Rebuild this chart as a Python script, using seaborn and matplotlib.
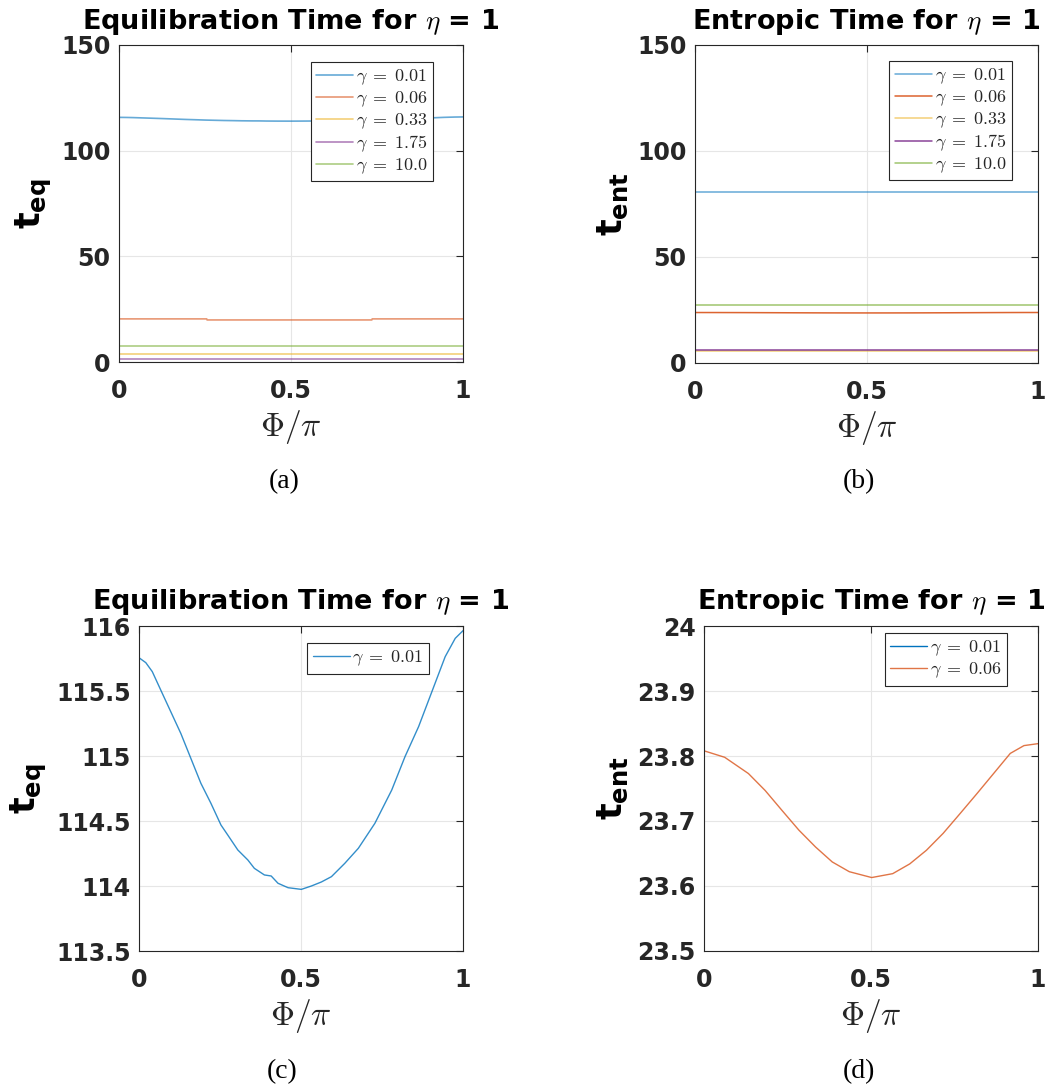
import numpy as np
import pandas as pd
import matplotlib
matplotlib.use('Agg')
import matplotlib.pyplot as plt
import seaborn as sns
from matplotlib.ticker import FuncFormatter, FixedLocator
from matplotlib.font_manager import FontProperties

# ---------------- data ----------------
gamma_labels = ['0.01', '0.06', '0.33', '1.75', '10.0']
colors = ['#0072BD', '#D95319', '#EDB120', '#7E2F8E', '#77AC30']

# gamma = 0.01 equilibration time (panel c, also panel a)
phi_c = [0.000, 0.021, 0.041, 0.067, 0.098, 0.129, 0.160, 0.191, 0.222, 0.253,
         0.274, 0.305, 0.336, 0.356, 0.387, 0.408, 0.429, 0.460, 0.501, 0.532,
         0.563, 0.594, 0.635, 0.677, 0.728, 0.780, 0.821, 0.863, 0.904, 0.945,
         0.976, 1.000]
teq_c = [115.756, 115.718, 115.649, 115.508, 115.341, 115.174, 114.982, 114.790,
         114.636, 114.469, 114.392, 114.277, 114.200, 114.136, 114.085, 114.077,
         114.021, 113.987, 113.974, 114.000, 114.031, 114.072, 114.174, 114.290,
         114.482, 114.738, 114.995, 115.226, 115.495, 115.764, 115.905, 115.964]

# gamma = 0.06 entropic time (panel d, also panel b)
phi_d = [0.000, 0.062, 0.133, 0.183, 0.234, 0.284, 0.334, 0.384, 0.435, 0.502,
         0.565, 0.616, 0.666, 0.716, 0.766, 0.817, 0.867, 0.917, 0.958, 1.000]
tent_d = [23.808, 23.798, 23.773, 23.747, 23.716, 23.686, 23.660, 23.637, 23.622,
          23.613, 23.619, 23.634, 23.655, 23.681, 23.711, 23.742, 23.773, 23.804,
          23.816, 23.819]

phi_flat = [0.0, 1.0]
phi_step = [0.0, 0.255, 0.256, 0.735, 0.736, 1.0]
teq_g006 = [20.4, 20.4, 19.9, 19.9, 20.4, 20.4]
teq_g033 = [3.7, 3.7]
teq_g175 = [1.3, 1.3]
teq_g10 = [7.8, 7.8]

tent_g001 = [80.5, 80.5]
tent_g033 = [5.8, 5.8]
tent_g175 = [6.2, 6.2]
tent_g10 = [27.3, 27.3]

# ---------------- style ----------------
sns.set_style('white')
plt.rcParams['font.family'] = ['DejaVu Sans']
plt.rcParams['font.weight'] = 'bold'
plt.rcParams['axes.titleweight'] = 'bold'
plt.rcParams['mathtext.fontset'] = 'custom'
plt.rcParams['mathtext.bf'] = 'DejaVu Sans:bold'
plt.rcParams['mathtext.rm'] = 'DejaVu Sans'
plt.rcParams['mathtext.it'] = 'DejaVu Sans:italic'

fig = plt.figure(figsize=(10.55, 10.84), dpi=100)
W, H = 1055, 1084

def add_axes(l, r, t, b):
    return fig.add_axes([l / W, 1 - b / H, (r - l) / W, (b - t) / H])

ax_a = add_axes(119, 463, 45, 362)
ax_b = add_axes(695, 1038, 45, 363)
ax_c = add_axes(139, 463, 626, 951)
ax_d = add_axes(704, 1038, 626, 951)

leg_prop = FontProperties(family='serif', size=13, math_fontfamily='cm')

def lab(g):
    return r'$\gamma\;=\;' + g + '$'

# panel a
series_a = [(phi_c, teq_c), (phi_step, teq_g006), (phi_flat, teq_g033),
            (phi_flat, teq_g175), (phi_flat, teq_g10)]
for (xs, ys), c, g in zip(series_a, colors, gamma_labels):
    sns.lineplot(x=xs, y=ys, ax=ax_a, color=c, lw=1.2, alpha=0.6, label=lab(g), sort=False)

# panel b
series_b = [(phi_flat, tent_g001), (phi_d, tent_d), (phi_flat, tent_g033),
            (phi_flat, tent_g175), (phi_flat, tent_g10)]
alphas_b = [0.6, 0.9, 0.6, 0.9, 0.7]
for (xs, ys), c, g, a in zip(series_b, colors, gamma_labels, alphas_b):
    sns.lineplot(x=xs, y=ys, ax=ax_b, color=c, lw=1.1, alpha=a, label=lab(g), sort=False)

# panel c
sns.lineplot(x=phi_c, y=teq_c, ax=ax_c, color=colors[0], lw=1.0, alpha=0.8, label=lab(gamma_labels[0]), sort=False)

# panel d
sns.lineplot(x=phi_flat, y=tent_g001, ax=ax_d, color=colors[0], lw=1.0, label=lab(gamma_labels[0]), sort=False)
sns.lineplot(x=phi_d, y=tent_d, ax=ax_d, color=colors[1], lw=1.0, alpha=0.8, label=lab(gamma_labels[1]), sort=False)

fmt = FuncFormatter(lambda v, p: '%g' % round(v, 6))

configs = [
    (ax_a, (0, 150), [0, 50, 100, 150], 'Equilibration Time for $\\eta$ = 1', r'$\mathbf{t_{eq}}$', (0.913, 0.946), '(a)', 284, 482, 11.5),
    (ax_b, (0, 150), [0, 50, 100, 150], 'Entropic Time for $\\eta$ = 1', r'$\mathbf{t_{ent}}$', (0.924, 0.950), '(b)', 859, 482, 11.5),
    (ax_c, (113.5, 116), [113.5, 114, 114.5, 115, 115.5, 116], 'Equilibration Time for $\\eta$ = 1', r'$\mathbf{t_{eq}}$', (0.895, 0.948), '(c)', 282, 1072, 12.5),
    (ax_d, (23.5, 24), [23.5, 23.6, 23.7, 23.8, 23.9, 24.0], 'Entropic Time for $\\eta$ = 1', r'$\mathbf{t_{ent}}$', (0.907, 0.978), '(d)', 859, 1072, 12.5),
]

for ax, ylim, yt, title, ylab, legpos, plab, px, py, tpad in configs:
    ax.set_xlim(0, 1)
    ax.set_ylim(*ylim)
    ax.xaxis.set_major_locator(FixedLocator([0, 0.5, 1]))
    ax.yaxis.set_major_locator(FixedLocator(yt))
    ax.xaxis.set_major_formatter(fmt)
    ax.yaxis.set_major_formatter(fmt)
    ax.tick_params(direction='in', length=5, width=0.8, top=True, right=True,
                   labelsize=17, colors='0.15', labelcolor='0.15')
    ax.tick_params(axis='x', pad=12)
    ax.tick_params(axis='y', pad=6)
    for t in ax.get_xticklabels() + ax.get_yticklabels():
        t.set_fontweight('bold')
    ax.grid(True, color='0.9', lw=0.8)
    for s in ax.spines.values():
        s.set_color('0.15')
        s.set_linewidth(0.8)
        s.set_visible(True)
    ax.set_title(title, fontsize=19.5, fontweight='bold', pad=tpad, math_fontfamily='cm', color='black')
    ax.set_ylabel(ylab, fontsize=25, labelpad=5, color='black')
    ax.set_xlabel(r'$\Phi/\pi$', fontsize=24, labelpad=4, math_fontfamily='cm', color='0.15')
    leg = ax.legend(loc='upper right', bbox_to_anchor=legpos, borderaxespad=0,
                    prop=leg_prop, frameon=True, fancybox=False, framealpha=1,
                    edgecolor='0.15', handlelength=2.05, handletextpad=0.15,
                    labelspacing=0.12, borderpad=0.3)
    leg.get_frame().set_linewidth(0.8)
    fig.text(px / W, 1 - py / H, plab, ha='center', va='center',
             fontsize=20, fontweight='normal', family='Liberation Serif', color='black')

fig.savefig('out.png', dpi=100, facecolor='white')
